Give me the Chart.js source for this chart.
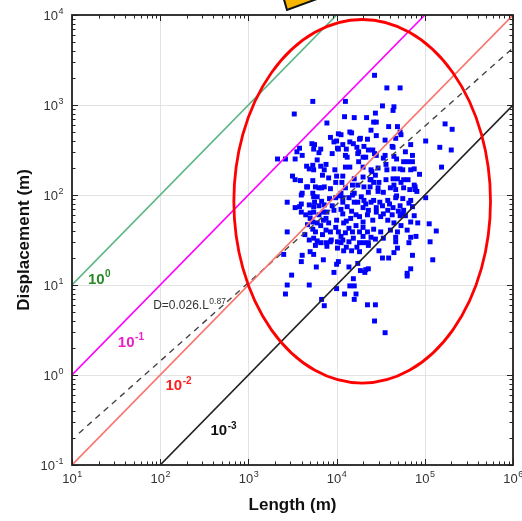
<!DOCTYPE html>
<html><head><meta charset="utf-8">
<script src="https://cdn.jsdelivr.net/npm/chart.js@4/dist/chart.umd.min.js"></script>
<style>html,body{margin:0;padding:0;background:#fff}#wrap{width:522px;height:521px;position:relative}</style>
</head><body><div id="wrap"><canvas id="c" width="522" height="521"></canvas></div>
<script>
// ---- data (log10 of Length (m), log10 of Displacement (m)) ----
const scatterLogLD = [
[4.43,3.33],[4.57,3.19],[4.72,3.19],[3.73,3.04],[4.10,3.04],[3.52,2.90],[4.52,2.99],[4.65,2.98],[4.64,2.94],[4.44,2.91],
[4.09,2.87],[4.20,2.86],[4.34,2.86],[3.89,2.80],[4.42,2.81],[5.23,2.79],[5.31,2.73],[4.69,2.76],[4.59,2.76],[4.72,2.70],
[4.02,2.68],[4.15,2.70],[4.17,2.69],[4.26,2.62],[4.35,2.62],[4.45,2.66],[3.93,2.64],[4.00,2.60],[3.97,2.59],[5.01,2.60],
[4.55,2.61],[4.67,2.63],[4.63,2.54],[5.17,2.53],[5.30,2.50],[3.58,2.52],[3.55,2.48],[3.53,2.40],[3.42,2.40],[3.33,2.40],
[3.75,2.56],[3.82,2.51],[3.74,2.51],[4.15,2.59],[4.11,2.51],[4.02,2.51],[3.95,2.46],[4.23,2.53],[4.24,2.46],[4.36,2.50],
[4.30,2.42],[4.33,2.42],[4.43,2.46],[4.53,2.41],[4.55,2.44],[4.65,2.43],[4.84,2.56],[4.86,2.44],[4.76,2.37],[4.86,2.37],
[4.88,2.29],[5.19,2.31],[4.94,2.23],[3.66,2.32],[3.73,2.33],[3.78,2.39],[3.82,2.32],[3.69,2.29],[3.74,2.28],[3.88,2.34],
[3.98,2.28],[4.12,2.42],[4.15,2.31],[4.25,2.37],[4.30,2.31],[4.39,2.28],[4.47,2.30],[4.57,2.28],[4.65,2.29],[4.72,2.29],
[3.50,2.21],[3.53,2.17],[3.59,2.16],[3.67,2.09],[3.61,2.02],[3.84,2.22],[3.91,2.19],[4.00,2.21],[3.73,2.16],[3.76,2.09],
[3.83,2.08],[4.20,2.18],[4.18,2.11],[4.24,2.11],[4.30,2.20],[4.38,2.17],[4.38,2.09],[4.42,2.14],[4.47,2.08],[4.56,2.17],
[4.64,2.18],[4.69,2.18],[4.65,2.11],[4.76,2.17],[4.76,2.08],[4.89,2.09],[4.91,2.04],[4.84,1.94],[3.93,2.07],[4.05,2.02],
[4.10,2.08],[4.07,1.97],[3.74,1.98],[3.78,1.98],[3.69,1.89],[3.74,1.87],[3.83,1.93],[3.92,1.96],[3.95,1.88],[3.60,1.90],
[3.58,1.87],[4.18,2.00],[4.20,1.92],[4.28,1.98],[4.33,1.90],[4.42,1.94],[4.49,1.92],[4.52,1.88],[4.60,1.90],[4.68,1.99],
[4.72,1.88],[3.60,1.81],[3.65,1.78],[3.70,1.80],[3.85,1.81],[3.88,1.74],[3.78,1.69],[3.73,1.62],[4.17,1.82],[4.26,1.76],
[4.35,1.78],[4.45,1.81],[4.53,1.79],[4.63,1.78],[4.75,1.79],[4.73,1.66],[4.65,1.69],[5.05,1.68],[5.13,1.60],[3.44,1.59],
[4.84,1.53],[4.90,1.54],[3.44,1.92],[3.60,2.00],[5.01,1.97],[5.06,1.48],[5.09,1.28],[4.82,1.47],[4.67,1.48],[4.69,1.41],
[4.65,1.36],[4.59,1.30],[4.52,1.30],[4.86,1.33],[4.84,1.18],[4.80,1.13],[4.80,1.10],[4.48,1.38],[4.44,1.51],[4.36,1.47],
[4.31,1.47],[4.26,1.37],[4.24,1.24],[4.33,1.17],[4.36,1.18],[4.32,1.14],[4.14,1.20],[4.19,1.07],[4.15,0.99],[4.20,0.99],
[4.22,0.90],[4.20,0.84],[4.09,0.90],[4.00,0.96],[4.02,1.26],[3.97,1.14],[4.08,1.38],[4.17,1.38],[3.85,1.28],[3.77,1.20],
[3.70,1.37],[3.74,1.34],[3.60,1.26],[3.49,1.11],[3.44,1.00],[3.42,0.90],[3.69,1.00],[3.83,0.84],[3.86,0.77],[4.35,0.78],
[4.44,0.78],[4.43,0.60],[4.55,0.47],[3.61,1.33],[3.76,1.44],[3.82,1.47],[3.89,1.43],[3.93,1.48],[4.01,1.41],[4.05,1.47],
[3.78,1.49],[3.40,1.34],[4.00,1.23],[4.27,1.16],
[4.05,2.67],[4.07,2.56],[4.19,2.57],[4.27,2.63],[4.25,2.48],[4.10,2.44],[4.01,2.52],[3.72,2.57],[3.80,2.47],[3.61,2.44],
[4.39,2.72],[4.45,2.81],[4.73,2.67],[4.64,2.53],[4.78,2.48],[4.31,2.54],[4.41,2.50],[4.45,2.44],
[3.86,2.28],[4.07,2.21],[3.99,2.14],[4.10,2.31],[4.06,2.14],[3.66,2.09],[3.80,2.08],[3.86,2.09],[3.53,1.86],[3.73,2.02],
[3.75,1.92],[3.86,1.89],[3.99,1.97],[4.03,1.99],[3.70,1.74],[3.80,1.78],[3.73,1.70],[3.74,1.81],[3.85,1.72],[3.91,1.69],
[3.82,1.66],[3.88,1.61],[3.93,1.59],[3.99,1.64],[4.02,1.59],[4.00,1.72],[4.08,1.69],[4.14,1.63],[4.18,1.59],[4.22,1.66],
[4.26,1.59],[4.30,1.54],[3.64,1.56],[3.74,1.52],[3.88,1.47],[3.94,1.50],[4.01,1.48],[4.07,1.50],[4.14,1.48],[4.19,1.52],
[4.26,1.47],[4.07,1.92],[4.12,1.87],[4.22,1.78],[4.16,1.74],[4.30,1.86],[4.30,1.70],[4.24,1.92],[4.14,1.97],[4.20,2.02],
[3.97,1.83],[4.07,1.79],
[4.56,2.34],[4.68,2.40],[4.81,2.37],[4.75,2.28],[4.84,2.28],[4.40,2.26],[4.44,2.22],[4.39,2.17],[4.48,2.14],[4.73,2.14],
[4.81,2.17],[4.88,2.11],[4.89,2.06],[4.83,2.06],[4.61,2.08],[4.67,2.06],[4.53,2.03],[4.47,2.04],[4.31,2.09],[4.36,2.03],
[4.31,1.94],[4.39,1.92],[4.58,1.94],[4.67,1.97],[4.75,1.96],[4.82,1.91],[4.36,1.83],[4.45,1.86],[4.58,1.83],[4.64,1.86],
[4.70,1.82],[4.76,1.83],[4.86,1.87],[4.41,1.72],[4.50,1.76],[4.58,1.72],[4.72,1.77],[4.78,1.77],[4.88,1.77],[4.84,1.70],
[4.92,1.69],[4.30,1.64],[4.35,1.59],[4.42,1.62],[4.50,1.59],[4.61,1.61],[4.69,1.59],[4.80,1.61],[4.39,1.53],[4.36,1.44],
[4.53,1.52],[4.67,1.53],
[3.67,1.67],[3.76,1.59],[3.84,1.56],[4.05,1.54],[4.10,1.58],[3.89,1.81],[4.05,1.84],[4.11,1.71],[3.80,1.88],[3.69,1.50],
[4.11,1.42],[4.23,1.42]
];
const ratioValues = [1, 0.1, 0.01, 0.001];          // D/L reference lines
const ratioExponents = ['0', '-1', '-2', '-3'];
const ratioColors = ['#5cb585', '#ff00ff', '#f8766d', '#222222'];
const ratioLabelColors = ['#2a8a2a', '#e81ec8', '#ff1e1e', '#111111'];
const ratioLabelLogLD = [[1.18, 1.01], [1.52, 0.31], [2.06, -0.17], [2.57, -0.67]];
const fitCoef = 0.026, fitExp = 0.87, fitRange = [12, 1e6];
const fitLabelLogLD = [1.92, 0.73];
const xTickExponents = [1, 2, 3, 4, 5, 6];
const yTickExponents = [-1, 0, 1, 2, 3, 4];
const ellipseLogCenter = [4.29, 1.93], ellipseLogHalf = [1.455, 2.02];

const ratioDatasets = ratioValues.map((r, i) => ({
  type: 'line', order: 1,
  data: [{x: 10, y: 10 * r}, {x: 1e6, y: 1e6 * r}],
  borderColor: ratioColors[i], borderWidth: 1.6, pointRadius: 0, fill: false
}));
const fitDataset = {
  type: 'line', order: 1,
  data: fitRange.map(L => ({x: L, y: fitCoef * Math.pow(L, fitExp)})),
  borderColor: '#444', borderWidth: 1.4, borderDash: [6, 5], pointRadius: 0, fill: false
};
const scatterDataset = {
  type: 'scatter', order: 5,
  data: scatterLogLD.map(p => ({x: Math.pow(10, p[0]), y: Math.pow(10, p[1])})),
  pointStyle: 'rect', pointRadius: 3.5, backgroundColor: '#0000ff', borderWidth: 0
};

function drawPow(ctx, base, exp, x, y, size, supSize, align, color, weight) {
  const f1 = weight + ' ' + size + 'px "Liberation Sans", Arial, sans-serif';
  const f2 = weight + ' ' + supSize + 'px "Liberation Sans", Arial, sans-serif';
  ctx.font = f1; const w1 = ctx.measureText(base).width;
  ctx.font = f2; const w2 = ctx.measureText(exp).width;
  let sx = x;
  if (align === 'center') sx = x - (w1 + w2) / 2; else if (align === 'right') sx = x - w1 - w2;
  ctx.fillStyle = color; ctx.textAlign = 'left'; ctx.textBaseline = 'alphabetic';
  ctx.font = f1; ctx.fillText(base, sx, y);
  ctx.font = f2; ctx.fillText(exp, sx + w1 + 0.5, y - size * 0.45);
}

const decorPlugin = {
  id: 'decor',
  beforeDatasetsDraw(chart) {
    const {ctx, chartArea: a, scales: {x: xs, y: ys}} = chart;
    ctx.save(); ctx.strokeStyle = '#e3e3e3'; ctx.lineWidth = 1;
    xTickExponents.forEach(e => { const p = Math.round(xs.getPixelForValue(Math.pow(10, e))) + 0.5;
      ctx.beginPath(); ctx.moveTo(p, a.top); ctx.lineTo(p, a.bottom); ctx.stroke(); });
    yTickExponents.forEach(e => { const p = Math.round(ys.getPixelForValue(Math.pow(10, e))) + 0.5;
      ctx.beginPath(); ctx.moveTo(a.left, p); ctx.lineTo(a.right, p); ctx.stroke(); });
    ctx.restore();
  },
  afterDatasetsDraw(chart) {
    const {ctx, chartArea: a, scales: {x: xs, y: ys}} = chart;
    ctx.save();
    // ellipse
    const cx = xs.getPixelForValue(Math.pow(10, ellipseLogCenter[0]));
    const cy = ys.getPixelForValue(Math.pow(10, ellipseLogCenter[1]));
    const rx = xs.getPixelForValue(Math.pow(10, ellipseLogCenter[0] + ellipseLogHalf[0])) - cx;
    const ry = cy - ys.getPixelForValue(Math.pow(10, ellipseLogCenter[1] + ellipseLogHalf[1]));
    ctx.strokeStyle = '#ff0000'; ctx.lineWidth = 2.8;
    ctx.beginPath(); ctx.ellipse(cx, cy, rx, ry, 0, 0, Math.PI * 2); ctx.stroke();
    // tick marks
    ctx.strokeStyle = '#222'; ctx.lineWidth = 1;
    for (let e = xTickExponents[0]; e <= xTickExponents[xTickExponents.length - 1]; e++) {
      for (let m = 1; m < 10; m++) {
        if (e === xTickExponents[xTickExponents.length - 1] && m > 1) break;
        const p = Math.round(xs.getPixelForValue(m * Math.pow(10, e))) + 0.5; const len = m === 1 ? 6 : 3.5;
        ctx.beginPath(); ctx.moveTo(p, a.bottom); ctx.lineTo(p, a.bottom - len);
        ctx.moveTo(p, a.top); ctx.lineTo(p, a.top + len); ctx.stroke();
      }
    }
    for (let e = yTickExponents[0]; e <= yTickExponents[yTickExponents.length - 1]; e++) {
      for (let m = 1; m < 10; m++) {
        if (e === yTickExponents[yTickExponents.length - 1] && m > 1) break;
        const p = Math.round(ys.getPixelForValue(m * Math.pow(10, e))) + 0.5; const len = m === 1 ? 6 : 3.5;
        ctx.beginPath(); ctx.moveTo(a.left, p); ctx.lineTo(a.left + len, p);
        ctx.moveTo(a.right, p); ctx.lineTo(a.right - len, p); ctx.stroke();
      }
    }
    ctx.lineWidth = 1.8; ctx.strokeStyle = '#222';
    ctx.strokeRect(a.left, a.top, a.right - a.left, a.bottom - a.top);
    // tick labels
    xTickExponents.forEach(e => drawPow(ctx, '10', String(e), xs.getPixelForValue(Math.pow(10, e)), a.bottom + 18, 13, 9, 'center', '#333', 'normal'));
    yTickExponents.forEach(e => drawPow(ctx, '10', String(e), a.left - 9, ys.getPixelForValue(Math.pow(10, e)) + 5, 13, 9, 'right', '#333', 'normal'));
    // line labels
    ratioExponents.forEach((ex, i) => {
      const lx = xs.getPixelForValue(Math.pow(10, ratioLabelLogLD[i][0]));
      const ly = ys.getPixelForValue(Math.pow(10, ratioLabelLogLD[i][1]));
      drawPow(ctx, '10', ex, lx, ly, 15, 10, 'left', ratioLabelColors[i], 'bold');
    });
    drawPow(ctx, 'D=0.026.L', '0.87', xs.getPixelForValue(Math.pow(10, fitLabelLogLD[0])), ys.getPixelForValue(Math.pow(10, fitLabelLogLD[1])), 12, 8.5, 'left', '#333', 'normal');
    // axis titles
    ctx.fillStyle = '#111'; ctx.font = 'bold 17px "Liberation Sans", Arial, sans-serif';
    ctx.textAlign = 'center'; ctx.textBaseline = 'alphabetic';
    ctx.fillText('Length (m)', (a.left + a.right) / 2, 510);
    ctx.save(); ctx.translate(29, (a.top + a.bottom) / 2); ctx.rotate(-Math.PI / 2);
    ctx.fillText('Displacement (m)', 0, 0); ctx.restore();
    // yellow arrow fragment at top
    ctx.fillStyle = '#f7b500'; ctx.strokeStyle = '#111'; ctx.lineWidth = 2;
    ctx.beginPath(); ctx.moveTo(283, -4); ctx.lineTo(287, 10); ctx.lineTo(325, -4); ctx.closePath();
    ctx.fill(); ctx.stroke();
    ctx.restore();
  }
};

new Chart(document.getElementById('c'), {
  data: { datasets: [...ratioDatasets, fitDataset, scatterDataset] },
  options: {
    responsive: false, animation: false, devicePixelRatio: 1,
    layout: { padding: { left: 72, top: 15, right: 9, bottom: 56 } },
    plugins: { legend: { display: false }, tooltip: { enabled: false } },
    scales: {
      x: { type: 'logarithmic', min: 10, max: 1e6, display: false },
      y: { type: 'logarithmic', min: 0.1, max: 1e4, display: false }
    }
  },
  plugins: [decorPlugin]
});
</script></body></html>
